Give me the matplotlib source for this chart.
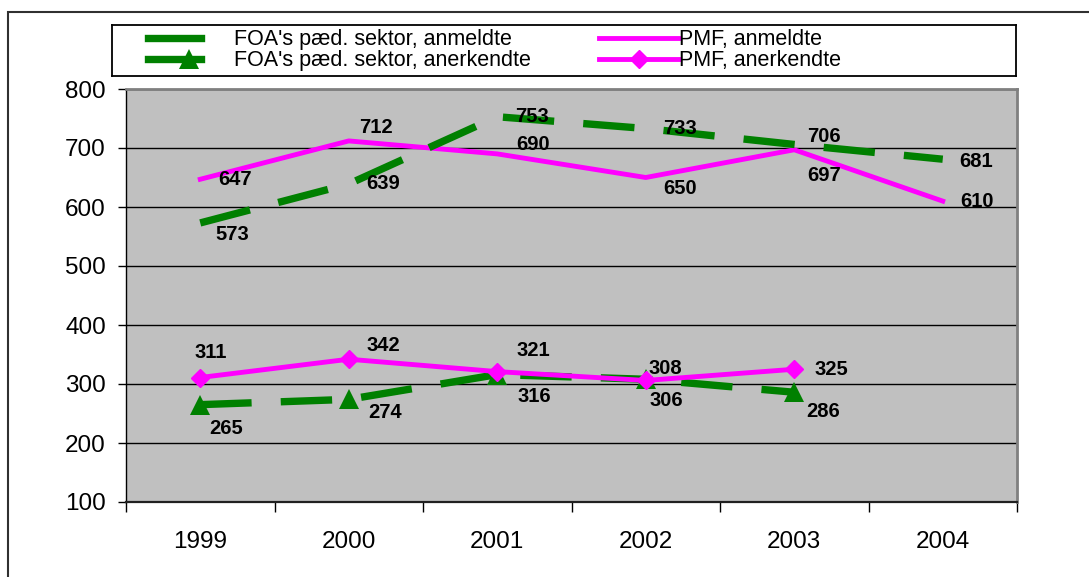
import matplotlib
matplotlib.use("Agg")
import matplotlib.pyplot as plt
from matplotlib.lines import Line2D
from matplotlib.patches import Rectangle
import numpy as np

plt.rcParams['font.family'] = ['Liberation Sans', 'DejaVu Sans']
plt.rcParams['lines.scale_dashes'] = False

# data
years = ['1999', '2000', '2001', '2002', '2003', '2004']
foa_anmeldte = [573, 639, 753, 733, 706, 681]
foa_anerkendte = [265, 274, 316, 308, 286]
pmf_anmeldte = [647, 712, 690, 650, 697, 610]
pmf_anerkendte = [311, 342, 321, 306, 325]

labels = ["FOA's pæd. sektor, anmeldte", "FOA's pæd. sektor, anerkendte",
          "PMF, anmeldte", "PMF, anerkendte"]

# label offsets in pixels (dx, dy up)
off_foa_anm = [(32, -12), (34, 0), (35, 0), (34, 0), (30, 8), (33, -2)]
off_foa_ank = [(26, -24), (36, -13), (37, -22), (20, 11), (29, -19)]
off_pmf_anm = [(35, 0), (27, 13), (36, 9), (34, -11), (30, -26), (34, 0)]
off_pmf_ank = [(10, 25), (35, 14), (36, 21), (21, -20), (37, 0)]

green = '#008000'
pink = '#FF00FF'
dash = (0, (37, 21))

W, H = 1089, 577
fig = plt.figure(figsize=(W / 100, H / 100), dpi=100)
fig.patch.set_facecolor('white')

# outer chart frame (only left/top edges visible)
fig.patches.append(Rectangle((8 / W, -0.2), 1.5, 1 - 12 / H + 0.2, fill=False,
                             lw=1.5, edgecolor='#303030', transform=fig.transFigure))

ax = fig.add_axes([126 / W, 1 - 502 / H, 891 / W, 413 / H])
ax.set_facecolor('#C0C0C0')

x6 = np.arange(len(years))
x5 = np.arange(len(pmf_anerkendte))

ax.plot(x6, pmf_anmeldte, color=pink, lw=3.5, solid_joinstyle='round', zorder=3)
ax.plot(x6, foa_anmeldte, color=green, lw=5.3, linestyle=dash, dash_capstyle='butt', zorder=4)
ax.plot(x5, foa_anerkendte, color=green, lw=5.3, linestyle=dash, dash_capstyle='butt',
        marker='^', ms=14, markeredgewidth=0, zorder=4)
ax.plot(x5, pmf_anerkendte, color=pink, lw=3.5, solid_joinstyle='round',
        marker='D', ms=9.5, markeredgewidth=1, zorder=5)

def put_labels(xs, vals, offs):
    for xi, v, (dx, dy) in zip(xs, vals, offs):
        ax.annotate(str(v), (xi, v), xytext=(dx, dy), textcoords='offset pixels',
                    ha='center', va='center', fontsize=14.5, fontweight='bold',
                    color='black', zorder=6)

put_labels(x6, foa_anmeldte, off_foa_anm)
put_labels(x5, foa_anerkendte, off_foa_ank)
put_labels(x6, pmf_anmeldte, off_pmf_anm)
put_labels(x5, pmf_anerkendte, off_pmf_ank)

ax.set_xlim(-0.5, len(years) - 0.5)
ax.set_ylim(100, 800)
ax.set_yticks(np.arange(100, 801, 100))
ax.yaxis.grid(True, color='black', lw=1)
ax.set_axisbelow(True)
ax.tick_params(axis='y', direction='out', length=6, width=1, pad=8.5, labelsize=17.5)

ax.set_xticks(np.arange(-0.5, len(years)), [''] * (len(years) + 1))
ax.set_xticks(x6, years, minor=True)
ax.tick_params(axis='x', which='major', direction='out', length=7, width=1)
ax.tick_params(axis='x', which='minor', length=0, pad=21, labelsize=17.5)

for s in ['top', 'right']:
    ax.spines[s].set_color('#808080')
    ax.spines[s].set_linewidth(2)
ax.spines['left'].set_color('black')
ax.spines['left'].set_linewidth(1)
ax.spines['bottom'].set_color('#202020')
ax.spines['bottom'].set_linewidth(1.6)

# legend box drawn in its own axes, pixel coordinates
lg = fig.add_axes([112 / W, 1 - 76 / H, 904 / W, 51 / H])
lg.set_xlim(112, 1016)
lg.set_ylim(76, 25)
lg.set_xticks([])
lg.set_yticks([])
for s in lg.spines.values():
    s.set_color('black')
    s.set_linewidth(1.3)

rows = [37.5, 58.5]
text_rows = [39, 60.5]
lg.add_line(Line2D([148, 201], [rows[0]] * 2, color=green, lw=5.3))
lg.add_line(Line2D([148, 201], [rows[1]] * 2, color=green, lw=5.3))
lg.plot([189], [rows[1]], marker='^', ms=14, color=green, markeredgewidth=0)
lg.add_line(Line2D([599, 678], [rows[0]] * 2, color=pink, lw=3.5))
lg.add_line(Line2D([599, 678], [rows[1]] * 2, color=pink, lw=3.5))
lg.plot([638.5], [rows[1]], marker='D', ms=9.5, color=pink, markeredgewidth=1)

lg.text(234, text_rows[0], labels[0], va='center', ha='left', fontsize=15.5)
lg.text(234, text_rows[1], labels[1], va='center', ha='left', fontsize=15.5)
lg.text(679, text_rows[0], labels[2], va='center', ha='left', fontsize=15.5)
lg.text(679, text_rows[1], labels[3], va='center', ha='left', fontsize=15.5)

fig.savefig('out.png', dpi=100)
